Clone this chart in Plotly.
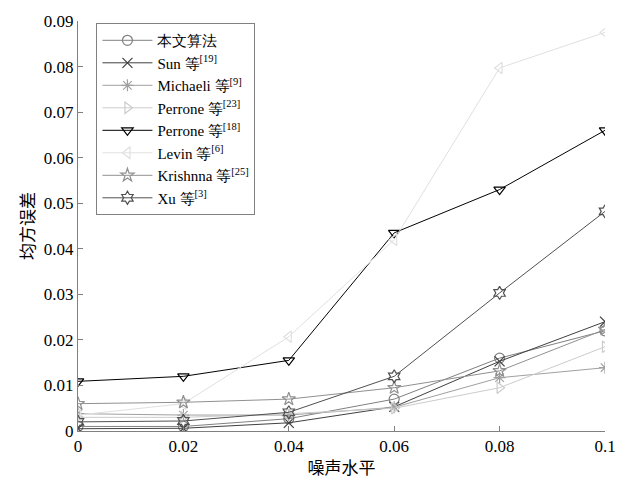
import plotly.graph_objects as go

x_levels = [0, 0.02, 0.04, 0.06, 0.08, 0.1]
ours = [0.0010, 0.0010, 0.0027, 0.0070, 0.0160, 0.0220]
sun = [0.0005, 0.0006, 0.0018, 0.0053, 0.0153, 0.0240]
michaeli = [0.0038, 0.0035, 0.0035, 0.0052, 0.0117, 0.0139]
perrone23 = [0.0030, 0.0030, 0.0038, 0.0050, 0.0095, 0.0185]
perrone18 = [0.0109, 0.0120, 0.0155, 0.0435, 0.0530, 0.0660]
levin = [0.0035, 0.0060, 0.0207, 0.0420, 0.0797, 0.0875]
krishnna = [0.0060, 0.0063, 0.0070, 0.0095, 0.0132, 0.0223]
xu = [0.0020, 0.0022, 0.0041, 0.0120, 0.0303, 0.0482]

names = ["本文算法", "Sun 等<sup>[19]</sup>", "Michaeli 等<sup>[9]</sup>",
         "Perrone 等<sup>[23]</sup>", "Perrone 等<sup>[18]</sup>",
         "Levin 等<sup>[6]</sup>", "Krishnna 等<sup>[25]</sup>", "Xu 等<sup>[3]</sup>"]
series = [ours, sun, michaeli, perrone23, perrone18, levin, krishnna, xu]
colors = ["#808080", "#404040", "#a0a0a0", "#cccccc", "#000000", "#e0e0e0", "#909090", "#505050"]
symbols = ["circle-open", "x-thin-open", "asterisk-open", "triangle-right-open",
           "triangle-down-open", "triangle-left-open", "star-open", "hexagram-open"]

fig = go.Figure()
for n, s, c, m in zip(names, series, colors, symbols):
    fig.add_trace(go.Scatter(
        x=x_levels, y=s, name=n, mode="lines+markers",
        line=dict(color=c, width=1),
        marker=dict(symbol=m, size=10, color=c, line=dict(color=c, width=1.2)),
    ))

font_family = "Liberation Serif"
cjk_family = "Noto Sans CJK SC"
fig.update_layout(
    width=628, height=486,
    margin=dict(l=78, r=17, t=16, b=50),
    paper_bgcolor="white", plot_bgcolor="white",
    font=dict(family=font_family, size=17, color="black"),
    showlegend=True,
    legend=dict(x=0.035, y=0.995, xanchor="left", yanchor="top",
                bgcolor="white", bordercolor="#808080", borderwidth=1,
                font=dict(size=15, family=font_family), tracegroupgap=0,
                itemwidth=50),
)
fig.update_xaxes(
    range=[0, 0.1], tickvals=[0, 0.02, 0.04, 0.06, 0.08, 0.1],
    ticktext=["0", "0.02", "0.04", "0.06", "0.08", "0.1"],
    ticks="inside", ticklen=5, tickcolor="#808080", showline=True, linecolor="#808080",
    showgrid=False, zeroline=False,
    title=dict(text="噪声水平", font=dict(size=17, family=cjk_family), standoff=6),
    tickfont=dict(size=17, family=font_family),
)
fig.update_yaxes(
    range=[0, 0.09], tickvals=[0, 0.01, 0.02, 0.03, 0.04, 0.05, 0.06, 0.07, 0.08, 0.09],
    ticktext=["0", "0.01", "0.02", "0.03", "0.04", "0.05", "0.06", "0.07", "0.08", "0.09"],
    ticks="inside", ticklen=5, tickcolor="#808080", showline=True, linecolor="#808080",
    showgrid=False, zeroline=False,
    title=dict(text="均方误差", font=dict(size=17, family=cjk_family), standoff=4),
    tickfont=dict(size=17, family=font_family),
)
fig.write_html("out.html")
